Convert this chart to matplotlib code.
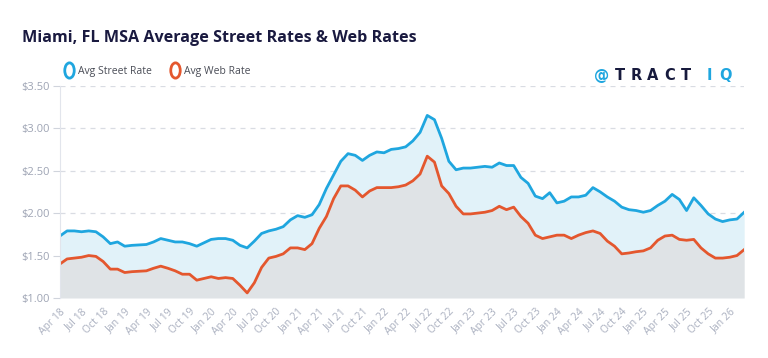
"""
Miami, FL MSA average street rates vs web rates (monthly, Apr 2018 - Mar 2026)
"""

import matplotlib
matplotlib.use('Agg')
import matplotlib.pyplot as plt
from matplotlib.lines import Line2D
from matplotlib.path import Path
from matplotlib.transforms import Affine2D

plt.rcParams['font.family'] = ['Open Sans', 'DejaVu Sans']

MONTHS = ['Jan', 'Feb', 'Mar', 'Apr', 'May', 'Jun',
          'Jul', 'Aug', 'Sep', 'Oct', 'Nov', 'Dec']

# 月度数据，起点 2018-04
street_rate = [
    1.73, 1.79, 1.79, 1.78, 1.79, 1.78, 1.72, 1.64, 1.66, 1.61, 1.62, 1.625,
    1.63, 1.66, 1.70, 1.68, 1.66, 1.66, 1.64, 1.61, 1.65, 1.69, 1.70, 1.70,
    1.68, 1.62, 1.59, 1.67, 1.76, 1.79, 1.81, 1.84, 1.92, 1.97, 1.95, 1.98,
    2.10, 2.29, 2.45, 2.61, 2.70, 2.68, 2.62, 2.68, 2.72, 2.71, 2.75, 2.76,
    2.78, 2.85, 2.95, 3.15, 3.10, 2.88, 2.61, 2.51, 2.53, 2.53, 2.54, 2.55,
    2.54, 2.59, 2.56, 2.56, 2.42, 2.35, 2.20, 2.17, 2.24, 2.12, 2.14, 2.19,
    2.19, 2.21, 2.30, 2.25, 2.19, 2.14, 2.07, 2.04, 2.03, 2.01, 2.03, 2.09,
    2.14, 2.22, 2.16, 2.03, 2.18, 2.09, 1.99, 1.93, 1.90, 1.92, 1.93, 2.01,
]
web_rate = [
    1.40, 1.46, 1.47, 1.48, 1.50, 1.49, 1.43, 1.34, 1.34, 1.30, 1.31, 1.315,
    1.32, 1.35, 1.375, 1.35, 1.32, 1.28, 1.28, 1.21, 1.23, 1.25, 1.23, 1.24,
    1.23, 1.15, 1.06, 1.18, 1.36, 1.47, 1.49, 1.52, 1.59, 1.59, 1.57, 1.64,
    1.82, 1.96, 2.17, 2.32, 2.32, 2.27, 2.19, 2.26, 2.30, 2.30, 2.30, 2.31,
    2.33, 2.38, 2.46, 2.67, 2.60, 2.32, 2.23, 2.08, 1.99, 1.99, 2.00, 2.01,
    2.03, 2.08, 2.04, 2.07, 1.96, 1.88, 1.74, 1.70, 1.72, 1.74, 1.74, 1.70,
    1.74, 1.77, 1.79, 1.76, 1.67, 1.61, 1.52, 1.53, 1.545, 1.555, 1.59, 1.68,
    1.73, 1.74, 1.69, 1.68, 1.69, 1.59, 1.52, 1.47, 1.47, 1.48, 1.50, 1.57,
]
y_ticks = [1.0, 1.5, 2.0, 2.5, 3.0, 3.5]

# 月份标签
month_labels = []
for k in range(len(street_rate)):
    m = (3 + k) % 12
    yr = 18 + (3 + k) // 12
    month_labels.append(f'{MONTHS[m]} {yr:02d}')

BLUE = '#1fa6df'
ORANGE = '#e4572e'
NAVY = '#171a3d'
GRID = '#d9dce3'
TICK_C = '#a9afbf'

fig = plt.figure(figsize=(7.68, 3.58), dpi=100)
ax = fig.add_axes([0.078, 0.1676, 0.891, 0.593])

x = list(range(len(street_rate)))
ax.fill_between(x, web_rate, street_rate, color='#e1f2f9', lw=0)
ax.fill_between(x, 1.0, web_rate, color='#dfe3e6', lw=0)
ax.plot(x, street_rate, color=BLUE, lw=2.0, solid_joinstyle='round')
ax.plot(x, web_rate, color=ORANGE, lw=2.0, solid_joinstyle='round')

ax.set_xlim(0, len(x) - 1)
ax.set_ylim(1.0, 3.5)
ax.set_yticks(y_ticks)
ax.set_yticklabels([f'${v:.2f}' for v in y_ticks])
ax.set_xticks(x[::3])
ax.set_xticklabels(month_labels[::3], rotation=45, ha='right',
                   rotation_mode='anchor')
ax.tick_params(axis='x', length=0, pad=6, labelsize=7.5, colors=TICK_C)
ax.tick_params(axis='y', length=5, width=0.8, color='#d0d4dc', pad=2,
               labelsize=8, labelcolor='#9ea4b4')
ax.yaxis.grid(True, ls=(0, (4, 4)), color=GRID, lw=0.9)
ax.set_axisbelow(True)
for s in ['top', 'right', 'bottom']:
    ax.spines[s].set_visible(False)
ax.spines['left'].set_color('#e2e5ec')

# 图例（空心椭圆环）
ring = Path.unit_circle().transformed(Affine2D().scale(0.62, 1.0))
handles = [
    Line2D([], [], ls='none', marker=ring, ms=11, mfc='none', mec=BLUE, mew=2),
    Line2D([], [], ls='none', marker=ring, ms=11, mfc='none', mec=ORANGE, mew=2),
]
fig.legend(handles, ['Avg Street Rate', 'Avg Web Rate'], loc='center left',
           bbox_to_anchor=(0.072, 0.80), ncol=2, frameon=False, fontsize=7.5,
           handlelength=0.8, handletextpad=0.5, columnspacing=1.8,
           labelcolor='#4a4d57')

fig.text(0.029, 0.895, 'Miami, FL MSA Average Street Rates & Web Rates',
         fontsize=11.6, fontweight='bold', color='#1a1a40', va='center')

# logo 文字，逐字母摆放
logo_y = 0.79
fig.text(602 / 768, logo_y, '@', fontsize=11, fontweight='bold', color=BLUE,
         va='center', ha='center', family='DejaVu Sans')
for px, ch in zip([620, 636.5, 653, 669.5, 686], 'TRACT'):
    fig.text(px / 768, logo_y, ch, fontsize=10.5, fontweight='bold',
             color=NAVY, va='center', ha='center', family='DejaVu Sans')
for px, ch in zip([709, 725], 'IQ'):
    fig.text(px / 768, logo_y, ch, fontsize=10.5, fontweight='bold',
             color=BLUE, va='center', ha='center', family='DejaVu Sans')

fig.savefig('out.png', dpi=100)
